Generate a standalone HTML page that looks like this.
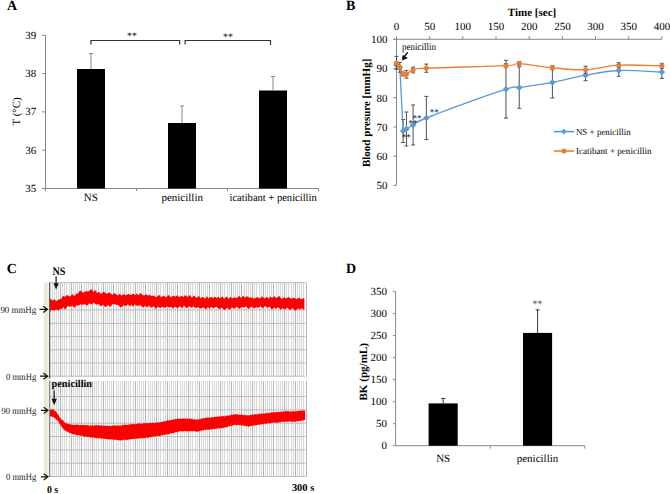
<!DOCTYPE html>
<html><head><meta charset="utf-8"><style>
html,body{margin:0;padding:0;background:#fff;}
svg{display:block;font-family:"Liberation Serif", serif;text-rendering:geometricPrecision;}
</style></head><body>
<svg width="670" height="494" viewBox="0 0 670 494">
<rect width="670" height="494" fill="#fff"/>
<text x="7" y="10" font-size="14" text-anchor="start" font-weight="bold" fill="#000" >A</text>
<path d="M45.5,35.3 V191.3 M45.5,188.5 H318.5" stroke="#868686" stroke-width="1" fill="none"/>
<path d="M42,188.5 H45.5" stroke="#868686" stroke-width="1"/>
<text x="36.3" y="191.8" font-size="11" text-anchor="end" font-weight="normal" fill="#000" >35</text>
<path d="M42,150.2 H45.5" stroke="#868686" stroke-width="1"/>
<text x="36.3" y="153.5" font-size="11" text-anchor="end" font-weight="normal" fill="#000" >36</text>
<path d="M42,111.9 H45.5" stroke="#868686" stroke-width="1"/>
<text x="36.3" y="115.2" font-size="11" text-anchor="end" font-weight="normal" fill="#000" >37</text>
<path d="M42,73.6 H45.5" stroke="#868686" stroke-width="1"/>
<text x="36.3" y="76.9" font-size="11" text-anchor="end" font-weight="normal" fill="#000" >38</text>
<path d="M42,35.3 H45.5" stroke="#868686" stroke-width="1"/>
<text x="36.3" y="38.60000000000001" font-size="11" text-anchor="end" font-weight="normal" fill="#000" >39</text>
<path d="M136.5,188.5 V191" stroke="#868686" stroke-width="1"/>
<path d="M227.5,188.5 V191" stroke="#868686" stroke-width="1"/>
<path d="M318.5,188.5 V191" stroke="#868686" stroke-width="1"/>
<rect x="77" y="69" width="28" height="119.5" fill="#000"/>
<path d="M91,69 V53.5 M89,53.5 H93" stroke="#8a8a8a" stroke-width="1" fill="none"/>
<rect x="168" y="123" width="28" height="65.5" fill="#000"/>
<path d="M182,123 V106 M180,106 H184" stroke="#8a8a8a" stroke-width="1" fill="none"/>
<rect x="259" y="90.5" width="28" height="98.0" fill="#000"/>
<path d="M273,90.5 V76.5 M271,76.5 H275" stroke="#8a8a8a" stroke-width="1" fill="none"/>
<path d="M91,44.6 V40.5 H179.6 V44.6 M185.1,44.6 V40.5 H270.5 V45" stroke="#333" stroke-width="1.2" fill="none"/>
<text x="132" y="39.2" font-size="10" text-anchor="middle" font-weight="normal" fill="#000" >**</text>
<text x="228" y="40" font-size="10" text-anchor="middle" font-weight="normal" fill="#000" >**</text>
<text x="90.8" y="200.8" font-size="11" text-anchor="middle" font-weight="normal" fill="#000" >NS</text>
<text x="182.2" y="200.8" font-size="11" text-anchor="middle" font-weight="normal" fill="#000" >penicillin</text>
<text x="229.5" y="200.8" font-size="11" text-anchor="start" font-weight="normal" fill="#000" textLength="87.2" lengthAdjust="spacingAndGlyphs">icatibant + penicillin</text>
<text transform="translate(20.3,111.4) rotate(-90)" font-size="11" text-anchor="middle">T (°C)</text>
<text x="346" y="10" font-size="14" text-anchor="start" font-weight="bold" fill="#000" >B</text>
<text x="532" y="16" font-size="11" text-anchor="middle" font-weight="bold" fill="#000" >Time [sec]</text>
<path d="M393.4,39.3 H661.9 M396.5,39.3 V185.4" stroke="#868686" stroke-width="1" fill="none"/>
<path d="M396.5,39.3 V36.3" stroke="#868686" stroke-width="1"/>
<text x="396.5" y="29.9" font-size="11" text-anchor="middle" font-weight="normal" fill="#000" >0</text>
<path d="M429.7,39.3 V36.3" stroke="#868686" stroke-width="1"/>
<text x="429.7" y="29.9" font-size="11" text-anchor="middle" font-weight="normal" fill="#000" >50</text>
<path d="M462.8,39.3 V36.3" stroke="#868686" stroke-width="1"/>
<text x="462.8" y="29.9" font-size="11" text-anchor="middle" font-weight="normal" fill="#000" >100</text>
<path d="M496.0,39.3 V36.3" stroke="#868686" stroke-width="1"/>
<text x="496.0" y="29.9" font-size="11" text-anchor="middle" font-weight="normal" fill="#000" >150</text>
<path d="M529.2,39.3 V36.3" stroke="#868686" stroke-width="1"/>
<text x="529.2" y="29.9" font-size="11" text-anchor="middle" font-weight="normal" fill="#000" >200</text>
<path d="M562.4,39.3 V36.3" stroke="#868686" stroke-width="1"/>
<text x="562.4" y="29.9" font-size="11" text-anchor="middle" font-weight="normal" fill="#000" >250</text>
<path d="M595.5,39.3 V36.3" stroke="#868686" stroke-width="1"/>
<text x="595.5" y="29.9" font-size="11" text-anchor="middle" font-weight="normal" fill="#000" >300</text>
<path d="M628.7,39.3 V36.3" stroke="#868686" stroke-width="1"/>
<text x="628.7" y="29.9" font-size="11" text-anchor="middle" font-weight="normal" fill="#000" >350</text>
<path d="M661.9,39.3 V36.3" stroke="#868686" stroke-width="1"/>
<text x="661.9" y="29.9" font-size="11" text-anchor="middle" font-weight="normal" fill="#000" >400</text>
<path d="M393.4,185.4 H396.5" stroke="#868686" stroke-width="1"/>
<text x="387.4" y="189.2" font-size="11" text-anchor="end" font-weight="normal" fill="#000" >50</text>
<path d="M393.4,156.2 H396.5" stroke="#868686" stroke-width="1"/>
<text x="387.4" y="160.0" font-size="11" text-anchor="end" font-weight="normal" fill="#000" >60</text>
<path d="M393.4,127.0 H396.5" stroke="#868686" stroke-width="1"/>
<text x="387.4" y="130.8" font-size="11" text-anchor="end" font-weight="normal" fill="#000" >70</text>
<path d="M393.4,97.7 H396.5" stroke="#868686" stroke-width="1"/>
<text x="387.4" y="101.5" font-size="11" text-anchor="end" font-weight="normal" fill="#000" >80</text>
<path d="M393.4,68.5 H396.5" stroke="#868686" stroke-width="1"/>
<text x="387.4" y="72.3" font-size="11" text-anchor="end" font-weight="normal" fill="#000" >90</text>
<path d="M393.4,39.3 H396.5" stroke="#868686" stroke-width="1"/>
<text x="387.4" y="43.1" font-size="11" text-anchor="end" font-weight="normal" fill="#000" >100</text>
<text transform="translate(369.8,112.85) rotate(-90)" font-size="11" font-weight="bold" text-anchor="middle">Blood presure [mmHg]</text>
<path d="M403.13,119.50 V142.50 M401.13,119.50 H405.13 M401.13,142.50 H405.13 M406.45,112.00 V146.00 M404.45,112.00 H408.45 M404.45,146.00 H408.45 M413.08,105.00 V145.00 M411.08,105.00 H415.08 M411.08,145.00 H415.08 M426.35,96.40 V139.60 M424.35,96.40 H428.35 M424.35,139.60 H428.35 M505.96,60.30 V118.10 M503.96,60.30 H507.96 M503.96,118.10 H507.96 M519.23,66.90 V108.30 M517.23,66.90 H521.23 M517.23,108.30 H521.23 M552.40,66.80 V98.00 M550.40,66.80 H554.40 M550.40,98.00 H554.40 M585.57,69.70 V80.70 M583.57,69.70 H587.57 M583.57,80.70 H587.57 M618.74,64.70 V76.30 M616.74,64.70 H620.74 M616.74,76.30 H620.74 M661.86,65.60 V78.40 M659.86,65.60 H663.86 M659.86,78.40 H663.86 " stroke="#505050" stroke-width="1" fill="none"/>
<path d="M396.50,65.00 L399.82,67.50 L403.13,131.00 L406.45,129.00 L413.08,125.00 C416.40,123.17 410.87,123.97 426.35,118.00 C441.83,112.03 490.48,94.27 505.96,89.20 C521.44,84.13 511.49,88.73 519.23,87.60 C526.97,86.47 541.34,84.47 552.40,82.40 C563.46,80.33 574.51,77.18 585.57,75.20 C596.63,73.22 606.02,71.03 618.74,70.50 C631.45,69.97 654.67,71.75 661.86,72.00" stroke="#5b9bd5" stroke-width="1.35" fill="none" stroke-linejoin="round"/>
<path d="M396.50,61.70 L399.80,65.00 L396.50,68.30 L393.20,65.00Z" fill="#5b9bd5"/>
<path d="M399.82,64.20 L403.12,67.50 L399.82,70.80 L396.52,67.50Z" fill="#5b9bd5"/>
<path d="M403.13,127.70 L406.43,131.00 L403.13,134.30 L399.83,131.00Z" fill="#5b9bd5"/>
<path d="M406.45,125.70 L409.75,129.00 L406.45,132.30 L403.15,129.00Z" fill="#5b9bd5"/>
<path d="M413.08,121.70 L416.38,125.00 L413.08,128.30 L409.78,125.00Z" fill="#5b9bd5"/>
<path d="M426.35,114.70 L429.65,118.00 L426.35,121.30 L423.05,118.00Z" fill="#5b9bd5"/>
<path d="M505.96,85.90 L509.26,89.20 L505.96,92.50 L502.66,89.20Z" fill="#5b9bd5"/>
<path d="M519.23,84.30 L522.53,87.60 L519.23,90.90 L515.93,87.60Z" fill="#5b9bd5"/>
<path d="M552.40,79.10 L555.70,82.40 L552.40,85.70 L549.10,82.40Z" fill="#5b9bd5"/>
<path d="M585.57,71.90 L588.87,75.20 L585.57,78.50 L582.27,75.20Z" fill="#5b9bd5"/>
<path d="M618.74,67.20 L622.04,70.50 L618.74,73.80 L615.44,70.50Z" fill="#5b9bd5"/>
<path d="M661.86,68.70 L665.16,72.00 L661.86,75.30 L658.56,72.00Z" fill="#5b9bd5"/>
<path d="M396.50,56.40 V69.40 M394.50,56.40 H398.50 M394.50,69.40 H398.50 M399.82,62.40 V72.20 M397.82,62.40 H401.82 M397.82,72.20 H401.82 M403.13,72.00 V76.00 M401.13,72.00 H405.13 M401.13,76.00 H405.13 M406.45,70.45 V78.15 M404.45,70.45 H408.45 M404.45,78.15 H408.45 M413.08,67.10 V72.90 M411.08,67.10 H415.08 M411.08,72.90 H415.08 M426.35,64.10 V72.30 M424.35,64.10 H428.35 M424.35,72.30 H428.35 M505.96,63.70 V67.70 M503.96,63.70 H507.96 M503.96,67.70 H507.96 M519.23,61.60 V65.60 M517.23,61.60 H521.23 M517.23,65.60 H521.23 M552.40,65.80 V69.80 M550.40,65.80 H554.40 M550.40,69.80 H554.40 M585.57,66.20 V73.20 M583.57,66.20 H587.57 M583.57,73.20 H587.57 M618.74,62.70 V67.70 M616.74,62.70 H620.74 M616.74,67.70 H620.74 M661.86,63.30 V68.30 M659.86,63.30 H663.86 M659.86,68.30 H663.86 " stroke="#505050" stroke-width="1" fill="none"/>
<path d="M396.50,62.90 L399.82,67.30 C400.92,69.15 402.03,72.83 403.13,74.00 C404.24,75.17 404.79,74.97 406.45,74.30 C408.11,73.63 409.77,71.02 413.08,70.00 C416.40,68.98 410.87,68.92 426.35,68.20 C441.83,67.48 490.48,66.47 505.96,65.70 C521.44,64.93 511.49,63.25 519.23,63.60 C526.97,63.95 541.34,66.78 552.40,67.80 C563.46,68.82 574.51,70.13 585.57,69.70 C596.63,69.27 606.02,65.85 618.74,65.20 C631.45,64.55 654.67,65.70 661.86,65.80" stroke="#ed7d31" stroke-width="1.35" fill="none" stroke-linejoin="round"/>
<circle cx="396.50" cy="62.90" r="2.5" fill="#ed7d31"/>
<circle cx="399.82" cy="67.30" r="2.5" fill="#ed7d31"/>
<circle cx="403.13" cy="74.00" r="2.5" fill="#ed7d31"/>
<circle cx="406.45" cy="74.30" r="2.5" fill="#ed7d31"/>
<circle cx="413.08" cy="70.00" r="2.5" fill="#ed7d31"/>
<circle cx="426.35" cy="68.20" r="2.5" fill="#ed7d31"/>
<circle cx="505.96" cy="65.70" r="2.5" fill="#ed7d31"/>
<circle cx="519.23" cy="63.60" r="2.5" fill="#ed7d31"/>
<circle cx="552.40" cy="67.80" r="2.5" fill="#ed7d31"/>
<circle cx="585.57" cy="69.70" r="2.5" fill="#ed7d31"/>
<circle cx="618.74" cy="65.20" r="2.5" fill="#ed7d31"/>
<circle cx="661.86" cy="65.80" r="2.5" fill="#ed7d31"/>
<text x="406.2" y="140.0" font-size="9" text-anchor="middle" font-weight="normal" fill="#000" >**</text>
<text x="412.8" y="126.4" font-size="9" text-anchor="middle" font-weight="normal" fill="#000" >**</text>
<text x="416.9" y="120.6" font-size="9" text-anchor="middle" font-weight="normal" fill="#000" >**</text>
<text x="434.3" y="115.3" font-size="9" text-anchor="middle" font-weight="normal" fill="#000" >**</text>
<text x="402" y="49.9" font-size="10" text-anchor="start" font-weight="normal" fill="#000" textLength="34" lengthAdjust="spacingAndGlyphs">penicillin</text>
<path d="M407.8,52.3 L404.3,56.5" stroke="#000" stroke-width="1.3"/>
<path d="M402,60.6 L402.6,55 L408,58 Z" fill="#000"/>
<path d="M554,131.6 H574" stroke="#5b9bd5" stroke-width="1.6"/>
<path d="M563.9,128.8 L566.7,131.6 L563.9,134.4 L561.1,131.6Z" fill="#5b9bd5"/>
<path d="M554,151 H574" stroke="#ed7d31" stroke-width="1.6"/>
<circle cx="563.9" cy="151" r="2.5" fill="#ed7d31"/>
<text x="575.9" y="134.6" font-size="9.3" text-anchor="start" font-weight="normal" fill="#000" textLength="54.9" lengthAdjust="spacingAndGlyphs">NS + penicillin</text>
<text x="575.9" y="154.0" font-size="9.3" text-anchor="start" font-weight="normal" fill="#000" textLength="75.7" lengthAdjust="spacingAndGlyphs">Icatibant + penicillin</text>
<text x="346" y="273.1" font-size="14" text-anchor="start" font-weight="bold" fill="#000" >D</text>
<path d="M395.6,291.6 V445.7 H584.8" stroke="#868686" stroke-width="1" fill="none"/>
<path d="M392.9,445.7 H395.6" stroke="#868686" stroke-width="1"/>
<text x="387" y="449.3" font-size="11" text-anchor="end" font-weight="normal" fill="#000" >0</text>
<path d="M392.9,423.7 H395.6" stroke="#868686" stroke-width="1"/>
<text x="387" y="427.3" font-size="11" text-anchor="end" font-weight="normal" fill="#000" >50</text>
<path d="M392.9,401.7 H395.6" stroke="#868686" stroke-width="1"/>
<text x="387" y="405.3" font-size="11" text-anchor="end" font-weight="normal" fill="#000" >100</text>
<path d="M392.9,379.7 H395.6" stroke="#868686" stroke-width="1"/>
<text x="387" y="383.3" font-size="11" text-anchor="end" font-weight="normal" fill="#000" >150</text>
<path d="M392.9,357.7 H395.6" stroke="#868686" stroke-width="1"/>
<text x="387" y="361.3" font-size="11" text-anchor="end" font-weight="normal" fill="#000" >200</text>
<path d="M392.9,335.6 H395.6" stroke="#868686" stroke-width="1"/>
<text x="387" y="339.2" font-size="11" text-anchor="end" font-weight="normal" fill="#000" >250</text>
<path d="M392.9,313.6 H395.6" stroke="#868686" stroke-width="1"/>
<text x="387" y="317.2" font-size="11" text-anchor="end" font-weight="normal" fill="#000" >300</text>
<path d="M392.9,291.6 H395.6" stroke="#868686" stroke-width="1"/>
<text x="387" y="295.2" font-size="11" text-anchor="end" font-weight="normal" fill="#000" >350</text>
<path d="M490.2,445.7 V448.6" stroke="#868686" stroke-width="1"/>
<path d="M584.8,445.7 V448.6" stroke="#868686" stroke-width="1"/>
<rect x="428.6" y="403.4" width="29.1" height="42.3" fill="#000"/>
<rect x="523" y="332.9" width="29.1" height="112.8" fill="#000"/>
<path d="M443.2,403.4 V398.4 M441.2,398.4 H445.2 M537.6,332.9 V309.9 M535.6,309.9 H539.6" stroke="#333" stroke-width="1" fill="none"/>
<text x="537.6" y="307.4" font-size="10" text-anchor="middle" font-weight="normal" fill="#444" >**</text>
<text x="443.2" y="461.6" font-size="11" text-anchor="middle" font-weight="normal" fill="#000" >NS</text>
<text x="537.5" y="461.6" font-size="11" text-anchor="middle" font-weight="normal" fill="#000" >penicillin</text>
<text transform="translate(367.0,371.8) rotate(-90)" font-size="11.1" font-weight="bold" text-anchor="middle">BK (pg/mL)</text>
<rect x="44.0" y="282.7" width="3.8" height="194" fill="#ebe7d6"/>
<rect x="47.8" y="282.7" width="1.4" height="194" fill="#eff1ea"/>
<rect x="49.4" y="282.6" width="256.1" height="94.0" fill="#fbfbfb"/>
<path d="M52.50,282.6 V376.6 M54.50,282.6 V376.6 M56.50,282.6 V376.6 M58.50,282.6 V376.6 M62.50,282.6 V376.6 M64.50,282.6 V376.6 M66.50,282.6 V376.6 M69.50,282.6 V376.6 M73.50,282.6 V376.6 M75.50,282.6 V376.6 M77.50,282.6 V376.6 M79.50,282.6 V376.6 M84.50,282.6 V376.6 M86.50,282.6 V376.6 M88.50,282.6 V376.6 M90.50,282.6 V376.6 M94.50,282.6 V376.6 M96.50,282.6 V376.6 M98.50,282.6 V376.6 M101.50,282.6 V376.6 M105.50,282.6 V376.6 M107.50,282.6 V376.6 M109.50,282.6 V376.6 M111.50,282.6 V376.6 M116.50,282.6 V376.6 M118.50,282.6 V376.6 M120.50,282.6 V376.6 M122.50,282.6 V376.6 M126.50,282.6 V376.6 M128.50,282.6 V376.6 M130.50,282.6 V376.6 M133.50,282.6 V376.6 M137.50,282.6 V376.6 M139.50,282.6 V376.6 M141.50,282.6 V376.6 M143.50,282.6 V376.6 M148.50,282.6 V376.6 M150.50,282.6 V376.6 M152.50,282.6 V376.6 M154.50,282.6 V376.6 M158.50,282.6 V376.6 M160.50,282.6 V376.6 M163.50,282.6 V376.6 M165.50,282.6 V376.6 M169.50,282.6 V376.6 M171.50,282.6 V376.6 M173.50,282.6 V376.6 M175.50,282.6 V376.6 M180.50,282.6 V376.6 M182.50,282.6 V376.6 M184.50,282.6 V376.6 M186.50,282.6 V376.6 M190.50,282.6 V376.6 M192.50,282.6 V376.6 M195.50,282.6 V376.6 M197.50,282.6 V376.6 M201.50,282.6 V376.6 M203.50,282.6 V376.6 M205.50,282.6 V376.6 M207.50,282.6 V376.6 M212.50,282.6 V376.6 M214.50,282.6 V376.6 M216.50,282.6 V376.6 M218.50,282.6 V376.6 M222.50,282.6 V376.6 M224.50,282.6 V376.6 M227.50,282.6 V376.6 M229.50,282.6 V376.6 M233.50,282.6 V376.6 M235.50,282.6 V376.6 M237.50,282.6 V376.6 M239.50,282.6 V376.6 M244.50,282.6 V376.6 M246.50,282.6 V376.6 M248.50,282.6 V376.6 M250.50,282.6 V376.6 M254.50,282.6 V376.6 M256.50,282.6 V376.6 M259.50,282.6 V376.6 M261.50,282.6 V376.6 M265.50,282.6 V376.6 M267.50,282.6 V376.6 M269.50,282.6 V376.6 M271.50,282.6 V376.6 M276.50,282.6 V376.6 M278.50,282.6 V376.6 M280.50,282.6 V376.6 M282.50,282.6 V376.6 M286.50,282.6 V376.6 M288.50,282.6 V376.6 M291.50,282.6 V376.6 M293.50,282.6 V376.6 M297.50,282.6 V376.6 M299.50,282.6 V376.6 M301.50,282.6 V376.6 M303.50,282.6 V376.6 " stroke="#d8d8d8" stroke-width="1"/>
<path d="M60.50,282.6 V376.6 M71.50,282.6 V376.6 M81.50,282.6 V376.6 M92.50,282.6 V376.6 M103.50,282.6 V376.6 M113.50,282.6 V376.6 M124.50,282.6 V376.6 M135.50,282.6 V376.6 M145.50,282.6 V376.6 M156.50,282.6 V376.6 M167.50,282.6 V376.6 M177.50,282.6 V376.6 M188.50,282.6 V376.6 M199.50,282.6 V376.6 M209.50,282.6 V376.6 M220.50,282.6 V376.6 M231.50,282.6 V376.6 M241.50,282.6 V376.6 M252.50,282.6 V376.6 M263.50,282.6 V376.6 M273.50,282.6 V376.6 M284.50,282.6 V376.6 M295.50,282.6 V376.6 M306.50,282.6 V376.6 " stroke="#b6b6b6" stroke-width="1"/>
<path d="M49.4,282.60 H305.5 M49.4,309.90 H305.5 M49.4,323.40 H305.5 M49.4,336.60 H305.5 M49.4,349.80 H305.5 M49.4,363.00 H305.5 M49.4,376.20 H305.5 " stroke="#bdbdbd" stroke-width="1"/>
<rect x="49.4" y="381.0" width="256.1" height="95.89999999999998" fill="#fbfbfb"/>
<path d="M52.50,381.0 V476.9 M54.50,381.0 V476.9 M56.50,381.0 V476.9 M58.50,381.0 V476.9 M62.50,381.0 V476.9 M64.50,381.0 V476.9 M66.50,381.0 V476.9 M69.50,381.0 V476.9 M73.50,381.0 V476.9 M75.50,381.0 V476.9 M77.50,381.0 V476.9 M79.50,381.0 V476.9 M84.50,381.0 V476.9 M86.50,381.0 V476.9 M88.50,381.0 V476.9 M90.50,381.0 V476.9 M94.50,381.0 V476.9 M96.50,381.0 V476.9 M98.50,381.0 V476.9 M101.50,381.0 V476.9 M105.50,381.0 V476.9 M107.50,381.0 V476.9 M109.50,381.0 V476.9 M111.50,381.0 V476.9 M116.50,381.0 V476.9 M118.50,381.0 V476.9 M120.50,381.0 V476.9 M122.50,381.0 V476.9 M126.50,381.0 V476.9 M128.50,381.0 V476.9 M130.50,381.0 V476.9 M133.50,381.0 V476.9 M137.50,381.0 V476.9 M139.50,381.0 V476.9 M141.50,381.0 V476.9 M143.50,381.0 V476.9 M148.50,381.0 V476.9 M150.50,381.0 V476.9 M152.50,381.0 V476.9 M154.50,381.0 V476.9 M158.50,381.0 V476.9 M160.50,381.0 V476.9 M163.50,381.0 V476.9 M165.50,381.0 V476.9 M169.50,381.0 V476.9 M171.50,381.0 V476.9 M173.50,381.0 V476.9 M175.50,381.0 V476.9 M180.50,381.0 V476.9 M182.50,381.0 V476.9 M184.50,381.0 V476.9 M186.50,381.0 V476.9 M190.50,381.0 V476.9 M192.50,381.0 V476.9 M195.50,381.0 V476.9 M197.50,381.0 V476.9 M201.50,381.0 V476.9 M203.50,381.0 V476.9 M205.50,381.0 V476.9 M207.50,381.0 V476.9 M212.50,381.0 V476.9 M214.50,381.0 V476.9 M216.50,381.0 V476.9 M218.50,381.0 V476.9 M222.50,381.0 V476.9 M224.50,381.0 V476.9 M227.50,381.0 V476.9 M229.50,381.0 V476.9 M233.50,381.0 V476.9 M235.50,381.0 V476.9 M237.50,381.0 V476.9 M239.50,381.0 V476.9 M244.50,381.0 V476.9 M246.50,381.0 V476.9 M248.50,381.0 V476.9 M250.50,381.0 V476.9 M254.50,381.0 V476.9 M256.50,381.0 V476.9 M259.50,381.0 V476.9 M261.50,381.0 V476.9 M265.50,381.0 V476.9 M267.50,381.0 V476.9 M269.50,381.0 V476.9 M271.50,381.0 V476.9 M276.50,381.0 V476.9 M278.50,381.0 V476.9 M280.50,381.0 V476.9 M282.50,381.0 V476.9 M286.50,381.0 V476.9 M288.50,381.0 V476.9 M291.50,381.0 V476.9 M293.50,381.0 V476.9 M297.50,381.0 V476.9 M299.50,381.0 V476.9 M301.50,381.0 V476.9 M303.50,381.0 V476.9 " stroke="#d8d8d8" stroke-width="1"/>
<path d="M60.50,381.0 V476.9 M71.50,381.0 V476.9 M81.50,381.0 V476.9 M92.50,381.0 V476.9 M103.50,381.0 V476.9 M113.50,381.0 V476.9 M124.50,381.0 V476.9 M135.50,381.0 V476.9 M145.50,381.0 V476.9 M156.50,381.0 V476.9 M167.50,381.0 V476.9 M177.50,381.0 V476.9 M188.50,381.0 V476.9 M199.50,381.0 V476.9 M209.50,381.0 V476.9 M220.50,381.0 V476.9 M231.50,381.0 V476.9 M241.50,381.0 V476.9 M252.50,381.0 V476.9 M263.50,381.0 V476.9 M273.50,381.0 V476.9 M284.50,381.0 V476.9 M295.50,381.0 V476.9 M306.50,381.0 V476.9 " stroke="#b6b6b6" stroke-width="1"/>
<path d="M49.4,396.52 H305.5 M49.4,409.85 H305.5 M49.4,423.18 H305.5 M49.4,436.51 H305.5 M49.4,449.84 H305.5 M49.4,463.17 H305.5 M49.4,476.50 H305.5 " stroke="#bdbdbd" stroke-width="1"/>
<path d="M49.7,282.6 V378.6" stroke="#4e514c" stroke-width="1.2"/>
<path d="M49.7,380.8 V477" stroke="#7a7a7a" stroke-width="1.2"/>
<polygon points="50.0,298.4 50.4,298.7 50.8,299.1 51.2,299.5 51.6,299.8 52.0,300.2 52.4,300.5 52.8,300.3 53.2,300.0 53.6,299.8 54.0,299.6 54.4,299.4 54.8,299.2 55.2,299.9 55.6,300.4 56.0,301.0 56.4,301.2 56.8,300.9 57.2,300.6 57.6,300.2 58.0,299.9 58.4,299.6 58.8,299.2 59.2,299.0 59.6,299.2 60.0,299.4 60.4,299.3 60.8,299.3 61.2,298.8 61.6,298.2 62.0,297.5 62.4,296.9 62.8,296.3 63.2,296.0 63.6,296.1 64.0,296.3 64.4,296.4 64.8,296.6 65.2,296.8 65.6,296.5 66.0,296.0 66.4,295.4 66.8,294.9 67.2,295.0 67.6,295.2 68.0,295.5 68.4,295.7 68.8,295.9 69.2,296.2 69.6,296.4 70.0,296.4 70.4,296.0 70.8,295.7 71.2,295.3 71.6,295.0 72.0,294.6 72.4,294.3 72.8,294.6 73.2,295.0 73.6,295.5 74.0,295.9 74.4,295.7 74.8,295.4 75.2,295.0 75.6,294.5 76.0,294.0 76.4,293.6 76.8,293.7 77.2,293.7 77.6,293.8 78.0,293.5 78.4,292.8 78.8,292.2 79.2,291.6 79.6,291.0 80.0,290.4 80.4,290.7 80.8,291.0 81.2,291.3 81.6,291.6 82.0,291.9 82.4,292.3 82.8,292.6 83.2,292.5 83.6,292.4 84.0,292.2 84.4,292.1 84.8,291.9 85.2,291.7 85.6,291.3 86.0,291.1 86.4,291.1 86.8,291.2 87.2,291.3 87.6,291.4 88.0,291.4 88.4,291.5 88.8,291.5 89.2,291.0 89.6,290.5 90.0,290.0 90.4,289.8 90.8,289.6 91.2,289.4 91.6,289.2 92.0,289.6 92.4,290.4 92.8,291.3 93.2,292.1 93.6,291.8 94.0,291.2 94.4,290.7 94.8,290.1 95.2,290.1 95.6,290.7 96.0,291.3 96.4,291.9 96.8,292.5 97.2,293.0 97.6,292.7 98.0,292.5 98.4,292.3 98.8,292.0 99.2,292.1 99.6,292.6 100.0,293.1 100.4,293.5 100.8,293.8 101.2,293.9 101.6,293.5 102.0,293.1 102.4,292.8 102.8,292.4 103.2,292.0 103.6,291.8 104.0,292.0 104.4,292.2 104.8,292.4 105.2,292.7 105.6,293.1 106.0,293.4 106.4,293.8 106.8,293.7 107.2,293.5 107.6,293.3 108.0,293.1 108.4,293.0 108.8,292.8 109.2,292.6 109.6,292.6 110.0,293.0 110.4,293.3 110.8,293.6 111.2,294.0 111.6,294.3 112.0,294.6 112.4,294.9 112.8,294.8 113.2,294.3 113.6,293.7 114.0,293.2 114.4,293.0 114.8,293.3 115.2,293.6 115.6,293.9 116.0,294.3 116.4,294.6 116.8,294.9 117.2,295.2 117.6,295.2 118.0,294.9 118.4,294.7 118.8,294.4 119.2,294.2 119.6,293.9 120.0,294.2 120.4,294.6 120.8,295.0 121.2,295.4 121.6,295.5 122.0,295.3 122.4,295.1 122.8,294.8 123.2,294.6 123.6,294.3 124.0,294.3 124.4,294.6 124.8,294.9 125.2,295.2 125.6,295.1 126.0,295.0 126.4,294.8 126.8,294.7 127.2,294.5 127.6,294.4 128.0,294.2 128.4,294.1 128.8,294.2 129.2,294.3 129.6,294.4 130.0,294.6 130.4,294.8 130.8,295.0 131.2,295.1 131.6,294.8 132.0,294.5 132.4,294.1 132.8,293.7 133.2,293.9 133.6,294.1 134.0,294.3 134.4,294.5 134.8,294.7 135.2,294.8 135.6,295.0 136.0,294.5 136.4,294.1 136.8,293.6 137.2,293.7 137.6,294.2 138.0,294.7 138.4,295.2 138.8,294.9 139.2,294.4 139.6,294.0 140.0,293.5 140.4,293.1 140.8,293.5 141.2,293.8 141.6,294.1 142.0,294.5 142.4,294.8 142.8,295.1 143.2,295.5 143.6,295.6 144.0,295.5 144.4,295.3 144.8,295.1 145.2,295.0 145.6,294.8 146.0,294.6 146.4,294.5 146.8,294.5 147.2,294.9 147.6,295.3 148.0,295.7 148.4,295.6 148.8,295.3 149.2,295.0 149.6,294.7 150.0,295.0 150.4,295.3 150.8,295.6 151.2,295.9 151.6,296.3 152.0,296.1 152.4,296.0 152.8,295.8 153.2,295.6 153.6,295.8 154.0,296.1 154.4,296.3 154.8,296.6 155.2,296.8 155.6,297.0 156.0,297.2 156.4,297.0 156.8,296.7 157.2,296.4 157.6,296.1 158.0,295.8 158.4,295.5 158.8,295.2 159.2,294.9 159.6,295.3 160.0,295.8 160.4,296.3 160.8,296.8 161.2,297.3 161.6,297.1 162.0,296.8 162.4,296.5 162.8,296.1 163.2,295.8 163.6,295.5 164.0,295.9 164.4,296.2 164.8,296.6 165.2,296.9 165.6,297.2 166.0,297.5 166.4,297.1 166.8,296.6 167.2,296.2 167.6,295.8 168.0,295.4 168.4,294.9 168.8,295.3 169.2,295.7 169.6,296.1 170.0,296.6 170.4,297.0 170.8,297.3 171.2,297.0 171.6,296.8 172.0,296.6 172.4,296.3 172.8,296.1 173.2,295.8 173.6,295.9 174.0,296.1 174.4,296.3 174.8,296.4 175.2,296.6 175.6,296.4 176.0,296.2 176.4,295.9 176.8,295.6 177.2,295.4 177.6,295.2 178.0,295.8 178.4,296.4 178.8,296.9 179.2,297.0 179.6,296.8 180.0,296.6 180.4,296.4 180.8,296.2 181.2,296.1 181.6,296.1 182.0,296.3 182.4,296.4 182.8,296.6 183.2,296.7 183.6,296.9 184.0,296.6 184.4,296.1 184.8,295.6 185.2,295.0 185.6,295.4 186.0,295.7 186.4,296.1 186.8,296.5 187.2,296.8 187.6,296.8 188.0,296.4 188.4,296.1 188.8,295.7 189.2,295.3 189.6,295.3 190.0,295.7 190.4,296.1 190.8,296.5 191.2,296.9 191.6,297.3 192.0,297.7 192.4,297.2 192.8,296.5 193.2,295.9 193.6,295.4 194.0,295.7 194.4,296.1 194.8,296.4 195.2,296.7 195.6,297.0 196.0,297.4 196.4,297.7 196.8,297.7 197.2,297.4 197.6,297.0 198.0,296.7 198.4,296.3 198.8,296.0 199.2,296.5 199.6,297.0 200.0,297.4 200.4,297.9 200.8,298.2 201.2,297.9 201.6,297.6 202.0,297.3 202.4,296.9 202.8,296.9 203.2,297.3 203.6,297.6 204.0,297.9 204.4,298.3 204.8,298.6 205.2,298.6 205.6,298.1 206.0,297.6 206.4,297.1 206.8,296.6 207.2,296.5 207.6,297.1 208.0,297.7 208.4,298.3 208.8,298.2 209.2,298.0 209.6,297.7 210.0,297.5 210.4,297.3 210.8,297.0 211.2,296.9 211.6,297.1 212.0,297.4 212.4,297.7 212.8,297.9 213.2,297.8 213.6,297.5 214.0,297.3 214.4,297.0 214.8,296.9 215.2,297.1 215.6,297.4 216.0,297.6 216.4,297.9 216.8,298.1 217.2,297.8 217.6,297.5 218.0,297.1 218.4,296.9 218.8,297.2 219.2,297.5 219.6,297.8 220.0,298.0 220.4,298.1 220.8,297.8 221.2,297.4 221.6,297.0 222.0,296.7 222.4,296.3 222.8,296.9 223.2,297.5 223.6,298.1 224.0,298.8 224.4,298.6 224.8,298.2 225.2,297.8 225.6,297.4 226.0,297.0 226.4,296.6 226.8,296.6 227.2,297.1 227.6,297.5 228.0,298.0 228.4,298.5 228.8,298.9 229.2,298.3 229.6,297.8 230.0,297.3 230.4,296.9 230.8,297.2 231.2,297.6 231.6,298.0 232.0,298.4 232.4,298.2 232.8,298.1 233.2,297.9 233.6,297.8 234.0,297.6 234.4,297.4 234.8,297.3 235.2,297.4 235.6,297.6 236.0,297.8 236.4,298.0 236.8,298.1 237.2,297.7 237.6,297.3 238.0,296.9 238.4,296.6 238.8,296.2 239.2,295.8 239.6,296.2 240.0,296.7 240.4,297.2 240.8,297.7 241.2,298.2 241.6,297.6 242.0,297.0 242.4,296.4 242.8,295.9 243.2,295.6 243.6,296.0 244.0,296.5 244.4,297.0 244.8,297.5 245.2,297.4 245.6,297.2 246.0,296.9 246.4,296.6 246.8,296.3 247.2,296.3 247.6,296.6 248.0,296.9 248.4,297.3 248.8,297.6 249.2,297.8 249.6,297.7 250.0,297.6 250.4,297.5 250.8,297.4 251.2,297.6 251.6,297.7 252.0,297.9 252.4,298.0 252.8,298.2 253.2,298.3 253.6,298.5 254.0,298.5 254.4,298.4 254.8,298.3 255.2,298.1 255.6,297.9 256.0,297.7 256.4,297.5 256.8,297.3 257.2,297.3 257.6,297.5 258.0,297.6 258.4,297.8 258.8,297.9 259.2,298.1 259.6,298.3 260.0,298.4 260.4,297.9 260.8,297.5 261.2,297.0 261.6,296.6 262.0,296.6 262.4,296.9 262.8,297.1 263.2,297.4 263.6,297.7 264.0,297.9 264.4,298.2 264.8,298.2 265.2,297.9 265.6,297.7 266.0,297.5 266.4,297.2 266.8,297.0 267.2,297.3 267.6,297.6 268.0,297.9 268.4,298.3 268.8,298.6 269.2,298.1 269.6,297.5 270.0,296.9 270.4,296.6 270.8,296.9 271.2,297.3 271.6,297.7 272.0,298.0 272.4,297.8 272.8,297.2 273.2,296.6 273.6,296.0 274.0,296.3 274.4,296.6 274.8,296.9 275.2,297.3 275.6,297.6 276.0,298.0 276.4,298.0 276.8,297.7 277.2,297.4 277.6,297.1 278.0,296.9 278.4,296.6 278.8,296.3 279.2,296.1 279.6,296.6 280.0,297.1 280.4,297.5 280.8,298.0 281.2,298.5 281.6,298.9 282.0,298.7 282.4,298.4 282.8,298.2 283.2,298.0 283.6,297.7 284.0,297.5 284.4,297.4 284.8,297.7 285.2,297.9 285.6,298.2 286.0,298.5 286.4,298.4 286.8,298.1 287.2,297.9 287.6,297.6 288.0,297.4 288.4,297.1 288.8,297.3 289.2,297.5 289.6,297.8 290.0,298.0 290.4,298.2 290.8,298.4 291.2,298.6 291.6,298.7 292.0,298.5 292.4,298.2 292.8,298.0 293.2,297.7 293.6,297.7 294.0,297.9 294.4,298.1 294.8,298.3 295.2,298.5 295.6,298.7 296.0,298.9 296.4,299.1 296.8,298.9 297.2,298.7 297.6,298.5 298.0,298.2 298.4,298.0 298.8,297.8 299.2,297.8 299.6,298.2 300.0,298.5 300.4,298.9 300.8,299.3 301.2,299.1 301.6,299.0 302.0,298.8 302.4,298.7 302.8,298.5 303.2,298.4 303.6,298.2 304.0,298.4 304.4,298.5 304.4,309.3 304.0,309.7 303.6,309.5 303.2,309.2 302.8,309.0 302.4,308.7 302.0,308.5 301.6,308.2 301.2,308.4 300.8,308.8 300.4,309.1 300.0,309.5 299.6,309.8 299.2,309.6 298.8,309.2 298.4,308.8 298.0,308.4 297.6,308.6 297.2,309.1 296.8,309.5 296.4,309.9 296.0,310.3 295.6,310.8 295.2,310.8 294.8,310.4 294.4,310.0 294.0,309.6 293.6,309.1 293.2,308.7 292.8,308.2 292.4,308.3 292.0,308.6 291.6,308.8 291.2,309.1 290.8,309.4 290.4,309.7 290.0,310.0 289.6,309.8 289.2,309.4 288.8,309.1 288.4,308.7 288.0,308.3 287.6,307.9 287.2,307.7 286.8,308.0 286.4,308.3 286.0,308.7 285.6,309.0 285.2,309.3 284.8,309.6 284.4,309.6 284.0,309.3 283.6,308.9 283.2,308.5 282.8,308.1 282.4,308.1 282.0,308.7 281.6,309.2 281.2,309.8 280.8,309.8 280.4,309.4 280.0,309.0 279.6,308.6 279.2,308.3 278.8,307.9 278.4,307.5 278.0,307.3 277.6,307.5 277.2,307.8 276.8,308.1 276.4,308.3 276.0,308.6 275.6,308.9 275.2,308.6 274.8,308.2 274.4,307.8 274.0,307.4 273.6,307.8 273.2,308.2 272.8,308.7 272.4,309.1 272.0,309.5 271.6,309.2 271.2,308.7 270.8,308.2 270.4,307.7 270.0,307.2 269.6,306.6 269.2,306.8 268.8,307.1 268.4,307.4 268.0,307.7 267.6,308.0 267.2,308.0 266.8,307.6 266.4,307.1 266.0,306.6 265.6,306.1 265.2,306.0 264.8,306.3 264.4,306.7 264.0,307.1 263.6,307.5 263.2,307.9 262.8,308.3 262.4,307.9 262.0,307.5 261.6,307.1 261.2,306.8 260.8,306.4 260.4,306.6 260.0,306.8 259.6,307.0 259.2,307.2 258.8,307.4 258.4,307.6 258.0,307.8 257.6,307.7 257.2,307.5 256.8,307.2 256.4,307.1 256.0,307.3 255.6,307.6 255.2,307.9 254.8,308.2 254.4,308.4 254.0,308.2 253.6,308.0 253.2,307.7 252.8,307.5 252.4,307.2 252.0,307.0 251.6,306.7 251.2,306.8 250.8,307.1 250.4,307.4 250.0,307.8 249.6,308.1 249.2,308.4 248.8,308.7 248.4,309.0 248.0,308.6 247.6,308.1 247.2,307.7 246.8,307.3 246.4,306.9 246.0,306.5 245.6,306.5 245.2,306.8 244.8,307.1 244.4,307.5 244.0,307.8 243.6,307.6 243.2,307.4 242.8,307.2 242.4,307.0 242.0,307.0 241.6,307.3 241.2,307.5 240.8,307.8 240.4,308.1 240.0,308.3 239.6,308.6 239.2,308.8 238.8,308.6 238.4,308.2 238.0,307.9 237.6,307.6 237.2,307.3 236.8,306.9 236.4,306.8 236.0,307.3 235.6,307.7 235.2,308.2 234.8,308.7 234.4,308.6 234.0,308.4 233.6,308.3 233.2,308.1 232.8,307.9 232.4,307.8 232.0,307.6 231.6,307.6 231.2,308.0 230.8,308.5 230.4,309.0 230.0,309.4 229.6,309.9 229.2,309.6 228.8,309.3 228.4,308.9 228.0,308.6 227.6,308.3 227.2,308.0 226.8,307.9 226.4,308.4 226.0,308.8 225.6,309.2 225.2,309.7 224.8,310.1 224.4,310.1 224.0,309.7 223.6,309.3 223.2,308.9 222.8,308.6 222.4,308.2 222.0,307.8 221.6,307.6 221.2,307.9 220.8,308.1 220.4,308.4 220.0,308.6 219.6,308.9 219.2,309.0 218.8,308.7 218.4,308.4 218.0,308.0 217.6,307.7 217.2,307.4 216.8,307.1 216.4,306.8 216.0,306.7 215.6,307.0 215.2,307.2 214.8,307.4 214.4,307.7 214.0,308.0 213.6,308.3 213.2,308.2 212.8,307.9 212.4,307.6 212.0,307.3 211.6,306.9 211.2,307.1 210.8,307.5 210.4,307.9 210.0,308.3 209.6,308.8 209.2,308.7 208.8,308.2 208.4,307.6 208.0,307.1 207.6,307.6 207.2,308.1 206.8,308.6 206.4,309.1 206.0,309.3 205.6,309.1 205.2,308.8 204.8,308.5 204.4,308.2 204.0,307.9 203.6,307.6 203.2,307.4 202.8,307.6 202.4,307.8 202.0,308.0 201.6,308.2 201.2,308.4 200.8,308.6 200.4,308.6 200.0,308.3 199.6,308.1 199.2,307.9 198.8,307.7 198.4,307.5 198.0,307.3 197.6,307.1 197.2,307.4 196.8,307.7 196.4,308.0 196.0,308.2 195.6,308.1 195.2,307.8 194.8,307.5 194.4,307.2 194.0,306.9 193.6,306.5 193.2,306.6 192.8,306.9 192.4,307.1 192.0,307.4 191.6,307.7 191.2,307.5 190.8,307.2 190.4,307.0 190.0,306.8 189.6,306.5 189.2,306.3 188.8,306.3 188.4,306.7 188.0,307.1 187.6,307.5 187.2,307.9 186.8,308.3 186.4,308.1 186.0,307.7 185.6,307.2 185.2,306.8 184.8,306.3 184.4,305.9 184.0,305.6 183.6,306.2 183.2,306.9 182.8,307.6 182.4,308.3 182.0,308.1 181.6,307.7 181.2,307.4 180.8,307.0 180.4,306.6 180.0,306.3 179.6,306.4 179.2,306.8 178.8,307.2 178.4,307.6 178.0,308.0 177.6,308.4 177.2,308.1 176.8,307.9 176.4,307.6 176.0,307.4 175.6,307.1 175.2,306.8 174.8,306.7 174.4,307.2 174.0,307.7 173.6,308.2 173.2,308.7 172.8,308.3 172.4,308.0 172.0,307.6 171.6,307.2 171.2,306.9 170.8,306.9 170.4,307.1 170.0,307.2 169.6,307.3 169.2,307.5 168.8,307.5 168.4,307.3 168.0,307.1 167.6,306.8 167.2,306.6 166.8,306.4 166.4,306.7 166.0,307.0 165.6,307.3 165.2,307.7 164.8,308.0 164.4,307.9 164.0,307.6 163.6,307.4 163.2,307.1 162.8,306.9 162.4,306.9 162.0,307.1 161.6,307.3 161.2,307.6 160.8,307.8 160.4,308.0 160.0,307.9 159.6,307.6 159.2,307.2 158.8,306.9 158.4,306.7 158.0,307.0 157.6,307.3 157.2,307.6 156.8,308.0 156.4,308.3 156.0,308.6 155.6,308.8 155.2,308.3 154.8,307.8 154.4,307.2 154.0,306.6 153.6,306.3 153.2,306.6 152.8,306.8 152.4,307.0 152.0,307.2 151.6,307.4 151.2,307.6 150.8,307.9 150.4,307.4 150.0,306.7 149.6,306.2 149.2,305.6 148.8,305.9 148.4,306.3 148.0,306.6 147.6,307.0 147.2,307.3 146.8,307.4 146.4,306.8 146.0,306.2 145.6,305.6 145.2,305.7 144.8,306.1 144.4,306.5 144.0,306.8 143.6,307.2 143.2,307.6 142.8,307.4 142.4,307.1 142.0,306.7 141.6,306.3 141.2,306.0 140.8,305.6 140.4,305.3 140.0,305.2 139.6,305.3 139.2,305.4 138.8,305.6 138.4,305.7 138.0,305.8 137.6,305.9 137.2,305.9 136.8,305.7 136.4,305.5 136.0,305.2 135.6,305.0 135.2,304.7 134.8,304.5 134.4,304.5 134.0,305.2 133.6,305.8 133.2,306.5 132.8,307.0 132.4,306.2 132.0,305.5 131.6,304.8 131.2,304.4 130.8,305.1 130.4,305.8 130.0,306.5 129.6,306.3 129.2,305.7 128.8,305.1 128.4,304.5 128.0,304.5 127.6,304.8 127.2,305.1 126.8,305.3 126.4,305.6 126.0,305.9 125.6,306.0 125.2,305.8 124.8,305.7 124.4,305.6 124.0,305.5 123.6,305.3 123.2,305.6 122.8,305.9 122.4,306.3 122.0,306.7 121.6,307.1 121.2,307.4 120.8,307.6 120.4,307.3 120.0,307.1 119.6,306.6 119.2,306.1 118.8,305.7 118.4,305.2 118.0,304.8 117.6,304.7 117.2,304.7 116.8,304.7 116.4,304.7 116.0,304.7 115.6,304.6 115.2,304.6 114.8,304.4 114.4,304.2 114.0,304.0 113.6,303.9 113.2,303.7 112.8,303.9 112.4,304.3 112.0,304.8 111.6,305.3 111.2,305.7 110.8,306.2 110.4,306.7 110.0,306.7 109.6,306.4 109.2,306.0 108.8,305.7 108.4,305.3 108.0,305.3 107.6,305.6 107.2,305.8 106.8,306.1 106.4,306.4 106.0,306.6 105.6,306.9 105.2,307.1 104.8,306.7 104.4,306.2 104.0,305.8 103.6,305.3 103.2,304.8 102.8,305.0 102.4,305.3 102.0,305.5 101.6,305.8 101.2,306.0 100.8,306.3 100.4,306.3 100.0,305.8 99.6,305.2 99.2,304.6 98.8,304.0 98.4,304.1 98.0,304.2 97.6,304.3 97.2,304.4 96.8,304.5 96.4,304.6 96.0,304.5 95.6,304.1 95.2,303.7 94.8,303.4 94.4,303.2 94.0,302.9 93.6,302.7 93.2,303.0 92.8,303.4 92.4,303.7 92.0,304.1 91.6,304.5 91.2,304.4 90.8,304.2 90.4,304.0 90.0,303.8 89.6,303.6 89.2,303.4 88.8,303.7 88.4,304.2 88.0,304.7 87.6,305.1 87.2,305.6 86.8,305.7 86.4,305.4 86.0,305.1 85.6,304.7 85.2,304.4 84.8,304.1 84.4,304.0 84.0,304.3 83.6,304.6 83.2,304.9 82.8,305.0 82.4,304.8 82.0,304.7 81.6,304.5 81.2,304.3 80.8,304.2 80.4,304.3 80.0,304.5 79.6,304.8 79.2,305.2 78.8,305.5 78.4,305.7 78.0,305.6 77.6,305.4 77.2,305.3 76.8,305.2 76.4,305.4 76.0,306.0 75.6,306.6 75.2,307.2 74.8,307.7 74.4,307.7 74.0,307.3 73.6,307.0 73.2,306.6 72.8,306.2 72.4,305.9 72.0,305.6 71.6,305.9 71.2,306.2 70.8,306.5 70.4,306.8 70.0,306.8 69.6,306.7 69.2,306.5 68.8,306.3 68.4,306.1 68.0,305.9 67.6,306.2 67.2,306.8 66.8,307.3 66.4,307.8 66.0,308.3 65.6,308.9 65.2,309.4 64.8,309.3 64.4,308.7 64.0,308.0 63.6,307.3 63.2,307.6 62.8,308.1 62.4,308.5 62.0,309.0 61.6,308.9 61.2,308.8 60.8,308.7 60.4,308.8 60.0,309.2 59.6,309.5 59.2,309.9 58.8,310.2 58.4,310.6 58.0,310.4 57.6,310.1 57.2,309.9 56.8,309.7 56.4,309.4 56.0,309.4 55.6,309.7 55.2,310.1 54.8,310.4 54.4,310.6 54.0,310.6 53.6,310.5 53.2,310.3 52.8,310.2 52.4,310.0 52.0,309.9 51.6,309.7 51.2,309.9 50.8,310.5 50.4,311.2 50.0,311.8" fill="#fa0000"/>
<polygon points="50.0,409.7 50.4,409.7 50.8,409.7 51.2,409.7 51.6,409.6 52.0,409.2 52.4,409.3 52.8,409.3 53.2,409.3 53.6,409.8 54.0,410.2 54.4,410.7 54.8,411.2 55.2,411.2 55.6,411.3 56.0,411.4 56.4,412.0 56.8,412.8 57.2,413.5 57.6,414.1 58.0,414.3 58.4,414.7 58.8,415.7 59.2,416.6 59.6,417.2 60.0,417.7 60.4,418.0 60.8,418.4 61.2,419.1 61.6,419.7 62.0,419.9 62.4,420.0 62.8,420.2 63.2,420.4 63.6,421.1 64.0,421.8 64.4,422.3 64.8,422.4 65.2,422.5 65.6,423.1 66.0,423.6 66.4,423.6 66.8,423.5 67.2,423.5 67.6,423.5 68.0,423.7 68.4,424.0 68.8,424.2 69.2,424.2 69.6,424.2 70.0,424.2 70.4,424.3 70.8,424.5 71.2,424.6 71.6,424.8 72.0,424.9 72.4,424.8 72.8,424.7 73.2,424.6 73.6,424.7 74.0,424.8 74.4,425.0 74.8,425.1 75.2,425.1 75.6,424.9 76.0,424.7 76.4,424.4 76.8,424.3 77.2,424.7 77.6,425.1 78.0,425.2 78.4,424.9 78.8,424.8 79.2,425.1 79.6,425.3 80.0,425.1 80.4,425.0 80.8,424.9 81.2,425.0 81.6,425.2 82.0,425.3 82.4,425.3 82.8,425.0 83.2,424.6 83.6,424.7 84.0,425.0 84.4,425.4 84.8,425.4 85.2,425.1 85.6,424.8 86.0,424.9 86.4,425.2 86.8,425.3 87.2,424.9 87.6,424.9 88.0,425.2 88.4,425.4 88.8,425.7 89.2,425.7 89.6,425.6 90.0,425.4 90.4,425.2 90.8,425.3 91.2,425.5 91.6,425.8 92.0,425.8 92.4,425.4 92.8,425.3 93.2,425.4 93.6,425.6 94.0,425.7 94.4,425.8 94.8,425.5 95.2,425.2 95.6,424.9 96.0,424.8 96.4,425.1 96.8,425.3 97.2,425.6 97.6,425.8 98.0,425.5 98.4,425.2 98.8,425.1 99.2,425.3 99.6,425.5 100.0,425.8 100.4,425.7 100.8,425.5 101.2,425.2 101.6,425.0 102.0,425.1 102.4,425.4 102.8,425.7 103.2,426.0 103.6,426.0 104.0,425.8 104.4,425.7 104.8,425.6 105.2,425.6 105.6,425.8 106.0,426.0 106.4,425.9 106.8,425.8 107.2,425.7 107.6,425.6 108.0,425.6 108.4,425.8 108.8,426.0 109.2,426.1 109.6,426.1 110.0,425.9 110.4,425.7 110.8,425.9 111.2,426.2 111.6,426.1 112.0,425.6 112.4,425.3 112.8,425.5 113.2,425.7 113.6,425.9 114.0,426.1 114.4,425.6 114.8,425.0 115.2,425.2 115.6,425.6 116.0,425.9 116.4,425.7 116.8,425.4 117.2,425.2 117.6,425.3 118.0,425.5 118.4,425.7 118.8,425.8 119.2,425.6 119.6,425.4 120.0,425.4 120.4,425.5 120.8,425.6 121.2,425.7 121.6,425.7 122.0,425.3 122.4,424.9 122.8,424.6 123.2,424.9 123.6,425.3 124.0,425.1 124.4,424.9 124.8,424.7 125.2,424.5 125.6,424.5 126.0,424.7 126.4,424.9 126.8,425.1 127.2,425.0 127.6,424.7 128.0,424.5 128.4,424.5 128.8,424.6 129.2,424.7 129.6,424.8 130.0,424.5 130.4,424.1 130.8,423.7 131.2,423.8 131.6,424.0 132.0,424.2 132.4,424.4 132.8,424.2 133.2,424.0 133.6,423.8 134.0,423.9 134.4,424.0 134.8,424.2 135.2,424.3 135.6,424.0 136.0,423.7 136.4,423.7 136.8,424.0 137.2,424.1 137.6,423.9 138.0,423.6 138.4,423.3 138.8,423.0 139.2,423.3 139.6,423.5 140.0,423.8 140.4,423.8 140.8,423.7 141.2,423.5 141.6,423.5 142.0,423.6 142.4,423.7 142.8,423.5 143.2,423.4 143.6,423.2 144.0,423.1 144.4,423.2 144.8,423.3 145.2,423.5 145.6,423.5 146.0,423.2 146.4,423.0 146.8,422.8 147.2,422.9 147.6,423.1 148.0,423.3 148.4,423.5 148.8,423.3 149.2,423.1 149.6,422.9 150.0,422.8 150.4,423.0 150.8,423.1 151.2,423.2 151.6,423.0 152.0,422.8 152.4,422.7 152.8,422.6 153.2,422.7 153.6,422.8 154.0,422.9 154.4,423.0 154.8,422.8 155.2,422.7 155.6,422.6 156.0,422.7 156.4,422.8 156.8,422.9 157.2,422.7 157.6,422.5 158.0,422.3 158.4,422.1 158.8,422.2 159.2,422.4 159.6,422.5 160.0,422.6 160.4,422.3 160.8,422.1 161.2,421.9 161.6,421.8 162.0,421.8 162.4,421.9 162.8,422.0 163.2,421.8 163.6,421.5 164.0,421.3 164.4,421.1 164.8,421.2 165.2,421.2 165.6,421.2 166.0,421.3 166.4,420.9 166.8,420.6 167.2,420.2 167.6,420.1 168.0,420.3 168.4,420.4 168.8,420.6 169.2,420.7 169.6,420.4 170.0,420.2 170.4,420.0 170.8,420.0 171.2,420.0 171.6,420.1 172.0,420.1 172.4,419.8 172.8,419.5 173.2,419.2 173.6,419.3 174.0,419.4 174.4,419.6 174.8,419.6 175.2,419.1 175.6,418.7 176.0,418.9 176.4,419.1 176.8,419.3 177.2,419.1 177.6,418.8 178.0,418.5 178.4,418.5 178.8,418.6 179.2,418.7 179.6,418.9 180.0,418.7 180.4,418.6 180.8,418.5 181.2,418.5 181.6,418.7 182.0,418.9 182.4,418.7 182.8,418.6 183.2,418.4 183.6,418.4 184.0,418.6 184.4,418.7 184.8,418.8 185.2,418.6 185.6,418.2 186.0,418.5 186.4,418.9 186.8,418.9 187.2,418.6 187.6,418.4 188.0,418.7 188.4,419.0 188.8,418.7 189.2,418.3 189.6,418.5 190.0,418.7 190.4,419.0 190.8,418.9 191.2,418.8 191.6,418.7 192.0,418.8 192.4,419.1 192.8,419.3 193.2,419.5 193.6,419.5 194.0,419.3 194.4,419.1 194.8,419.3 195.2,419.6 195.6,419.9 196.0,419.8 196.4,419.7 196.8,419.6 197.2,419.4 197.6,419.6 198.0,419.8 198.4,419.4 198.8,419.0 199.2,419.1 199.6,419.3 200.0,419.4 200.4,419.1 200.8,418.8 201.2,418.5 201.6,418.2 202.0,418.4 202.4,418.6 202.8,418.8 203.2,418.6 203.6,418.3 204.0,418.1 204.4,418.0 204.8,418.2 205.2,418.3 205.6,418.0 206.0,417.7 206.4,417.3 206.8,417.4 207.2,417.6 207.6,417.8 208.0,418.0 208.4,417.8 208.8,417.4 209.2,417.1 209.6,417.5 210.0,418.0 210.4,417.7 210.8,417.4 211.2,417.1 211.6,417.2 212.0,417.5 212.4,417.5 212.8,417.3 213.2,417.2 213.6,417.0 214.0,416.9 214.4,417.1 214.8,417.3 215.2,417.2 215.6,416.8 216.0,416.3 216.4,416.4 216.8,416.7 217.2,417.0 217.6,416.8 218.0,416.6 218.4,416.4 218.8,416.2 219.2,416.4 219.6,416.6 220.0,416.7 220.4,416.5 220.8,416.2 221.2,416.1 221.6,416.3 222.0,416.4 222.4,416.4 222.8,416.2 223.2,416.0 223.6,416.0 224.0,416.2 224.4,416.4 224.8,416.4 225.2,416.1 225.6,415.8 226.0,415.5 226.4,415.6 226.8,415.8 227.2,415.9 227.6,415.7 228.0,415.6 228.4,415.5 228.8,415.4 229.2,415.5 229.6,415.6 230.0,415.6 230.4,415.3 230.8,415.0 231.2,414.7 231.6,414.4 232.0,414.7 232.4,415.0 232.8,415.0 233.2,414.4 233.6,414.0 234.0,414.3 234.4,414.6 234.8,414.6 235.2,414.3 235.6,414.1 236.0,414.1 236.4,414.4 236.8,414.6 237.2,414.8 237.6,414.5 238.0,414.1 238.4,414.4 238.8,414.8 239.2,415.0 239.6,414.8 240.0,414.6 240.4,414.7 240.8,414.9 241.2,415.1 241.6,415.1 242.0,414.8 242.4,414.5 242.8,414.6 243.2,415.0 243.6,415.3 244.0,415.4 244.4,415.1 244.8,414.8 245.2,414.9 245.6,415.1 246.0,415.2 246.4,415.4 246.8,415.4 247.2,415.3 247.6,415.3 248.0,415.3 248.4,415.3 248.8,415.4 249.2,415.5 249.6,415.3 250.0,415.0 250.4,414.7 250.8,414.5 251.2,414.7 251.6,414.9 252.0,415.1 252.4,415.0 252.8,414.8 253.2,414.6 253.6,414.3 254.0,414.4 254.4,414.5 254.8,414.6 255.2,414.5 255.6,414.2 256.0,414.1 256.4,414.3 256.8,414.4 257.2,414.6 257.6,414.5 258.0,414.2 258.4,413.9 258.8,413.6 259.2,413.6 259.6,413.9 260.0,414.2 260.4,414.1 260.8,413.8 261.2,413.5 261.6,413.2 262.0,413.4 262.4,413.8 262.8,413.9 263.2,413.6 263.6,413.3 264.0,413.2 264.4,413.5 264.8,413.7 265.2,413.7 265.6,413.3 266.0,413.0 266.4,412.8 266.8,413.2 267.2,413.6 267.6,413.3 268.0,413.0 268.4,412.7 268.8,412.5 269.2,412.7 269.6,413.0 270.0,413.2 270.4,413.1 270.8,412.7 271.2,412.4 271.6,412.0 272.0,412.2 272.4,412.3 272.8,412.5 273.2,412.7 273.6,412.5 274.0,412.0 274.4,412.0 274.8,412.3 275.2,412.5 275.6,412.3 276.0,412.1 276.4,411.9 276.8,411.6 277.2,412.0 277.6,412.3 278.0,412.3 278.4,412.1 278.8,412.0 279.2,411.8 279.6,411.8 280.0,411.9 280.4,412.0 280.8,412.0 281.2,411.6 281.6,411.2 282.0,411.6 282.4,412.0 282.8,411.8 283.2,411.6 283.6,411.4 284.0,411.5 284.4,411.7 284.8,411.4 285.2,411.1 285.6,410.9 286.0,410.8 286.4,411.3 286.8,411.6 287.2,411.3 287.6,411.0 288.0,411.0 288.4,411.2 288.8,411.4 289.2,411.5 289.6,411.4 290.0,411.3 290.4,411.3 290.8,411.5 291.2,411.6 291.6,411.7 292.0,411.5 292.4,411.3 292.8,411.1 293.2,411.0 293.6,411.2 294.0,411.3 294.4,411.5 294.8,411.6 295.2,411.4 295.6,411.2 296.0,411.0 296.4,411.1 296.8,411.3 297.2,411.4 297.6,411.3 298.0,411.1 298.4,410.8 298.8,410.5 299.2,410.8 299.6,411.1 300.0,411.0 300.4,410.6 300.8,410.2 301.2,410.4 301.6,410.7 302.0,410.8 302.4,410.6 302.8,410.5 303.2,410.4 303.6,410.5 304.0,410.6 304.4,410.7 304.8,410.5 305.2,410.1 305.2,420.2 304.8,420.1 304.4,420.1 304.0,420.1 303.6,420.3 303.2,420.6 302.8,420.7 302.4,420.6 302.0,420.5 301.6,420.4 301.2,420.6 300.8,420.9 300.4,421.1 300.0,421.1 299.6,420.9 299.2,420.6 298.8,420.9 298.4,421.1 298.0,421.4 297.6,421.7 297.2,421.6 296.8,421.3 296.4,421.1 296.0,421.4 295.6,421.7 295.2,421.7 294.8,421.6 294.4,421.4 294.0,421.4 293.6,421.8 293.2,422.2 292.8,422.0 292.4,421.8 292.0,421.5 291.6,421.3 291.2,421.4 290.8,421.6 290.4,421.7 290.0,421.8 289.6,421.6 289.2,421.4 288.8,421.2 288.4,421.4 288.0,421.7 287.6,422.0 287.2,421.7 286.8,421.4 286.4,421.2 286.0,421.4 285.6,421.7 285.2,421.9 284.8,422.0 284.4,421.7 284.0,421.5 283.6,421.4 283.2,421.7 282.8,421.9 282.4,421.7 282.0,421.5 281.6,421.7 281.2,422.0 280.8,422.2 280.4,422.5 280.0,422.5 279.6,422.4 279.2,422.3 278.8,422.2 278.4,422.2 278.0,422.4 277.6,422.7 277.2,423.0 276.8,422.9 276.4,422.8 276.0,422.6 275.6,422.4 275.2,422.5 274.8,422.6 274.4,422.8 274.0,422.9 273.6,422.8 273.2,422.7 272.8,422.5 272.4,422.7 272.0,423.0 271.6,423.1 271.2,422.8 270.8,422.7 270.4,423.1 270.0,423.5 269.6,423.8 269.2,423.6 268.8,423.3 268.4,423.1 268.0,423.1 267.6,423.3 267.2,423.6 266.8,423.8 266.4,424.0 266.0,423.8 265.6,423.6 265.2,423.4 264.8,423.4 264.4,423.7 264.0,424.0 263.6,424.3 263.2,424.6 262.8,424.3 262.4,424.0 262.0,423.7 261.6,424.0 261.2,424.3 260.8,424.6 260.4,424.9 260.0,424.7 259.6,424.6 259.2,424.4 258.8,424.5 258.4,424.8 258.0,424.9 257.6,424.9 257.2,424.8 256.8,424.7 256.4,424.9 256.0,425.2 255.6,425.2 255.2,425.1 254.8,425.2 254.4,425.4 254.0,425.6 253.6,425.7 253.2,425.6 252.8,425.5 252.4,425.6 252.0,425.8 251.6,426.0 251.2,426.2 250.8,426.0 250.4,425.9 250.0,425.9 249.6,426.1 249.2,426.4 248.8,426.7 248.4,426.9 248.0,426.6 247.6,426.2 247.2,425.8 246.8,426.1 246.4,426.5 246.0,426.5 245.6,426.1 245.2,425.7 244.8,425.4 244.4,425.5 244.0,425.7 243.6,425.8 243.2,426.0 242.8,425.6 242.4,425.2 242.0,425.1 241.6,425.5 241.2,425.8 240.8,425.4 240.4,425.1 240.0,424.8 239.6,425.0 239.2,425.2 238.8,425.4 238.4,425.1 238.0,424.6 237.6,424.7 237.2,425.0 236.8,425.3 236.4,425.4 236.0,425.2 235.6,424.9 235.2,424.7 234.8,424.6 234.4,425.0 234.0,425.3 233.6,425.1 233.2,424.9 232.8,425.3 232.4,425.8 232.0,426.2 231.6,426.1 231.2,425.8 230.8,425.7 230.4,425.9 230.0,426.2 229.6,426.4 229.2,426.3 228.8,426.3 228.4,426.3 228.0,426.5 227.6,426.8 227.2,427.1 226.8,427.4 226.4,427.4 226.0,427.3 225.6,427.3 225.2,427.2 224.8,427.4 224.4,427.6 224.0,427.9 223.6,428.1 223.2,427.8 222.8,427.5 222.4,427.9 222.0,428.3 221.6,428.4 221.2,428.1 220.8,427.8 220.4,428.0 220.0,428.2 219.6,428.5 219.2,428.7 218.8,428.4 218.4,428.1 218.0,428.1 217.6,428.5 217.2,428.8 216.8,428.7 216.4,428.5 216.0,428.5 215.6,428.7 215.2,428.9 214.8,429.2 214.4,429.1 214.0,429.0 213.6,428.9 213.2,428.8 212.8,429.0 212.4,429.3 212.0,429.6 211.6,429.7 211.2,429.6 210.8,429.4 210.4,429.3 210.0,429.2 209.6,429.4 209.2,429.6 208.8,429.7 208.4,429.9 208.0,429.8 207.6,429.7 207.2,429.6 206.8,429.5 206.4,429.7 206.0,430.0 205.6,430.1 205.2,429.8 204.8,429.7 204.4,430.0 204.0,430.3 203.6,430.3 203.2,430.3 202.8,430.2 202.4,430.2 202.0,430.6 201.6,430.9 201.2,430.8 200.8,430.7 200.4,430.6 200.0,430.7 199.6,431.0 199.2,431.3 198.8,431.5 198.4,431.6 198.0,431.4 197.6,431.2 197.2,431.5 196.8,431.9 196.4,432.0 196.0,431.7 195.6,431.3 195.2,431.0 194.8,431.0 194.4,431.2 194.0,431.3 193.6,431.2 193.2,431.1 192.8,431.0 192.4,431.2 192.0,431.4 191.6,431.3 191.2,431.1 190.8,430.9 190.4,430.9 190.0,431.1 189.6,431.4 189.2,431.6 188.8,431.5 188.4,431.1 188.0,430.7 187.6,431.1 187.2,431.5 186.8,431.5 186.4,431.2 186.0,430.9 185.6,431.0 185.2,431.3 184.8,431.3 184.4,431.1 184.0,430.9 183.6,431.1 183.2,431.3 182.8,431.5 182.4,431.7 182.0,431.4 181.6,431.2 181.2,430.9 180.8,431.0 180.4,431.1 180.0,431.3 179.6,431.5 179.2,431.6 178.8,431.6 178.4,431.6 178.0,431.7 177.6,432.1 177.2,432.4 176.8,432.3 176.4,432.2 176.0,432.1 175.6,432.0 175.2,432.3 174.8,432.6 174.4,432.9 174.0,433.2 173.6,433.1 173.2,432.9 172.8,432.7 172.4,433.0 172.0,433.4 171.6,433.8 171.2,433.7 170.8,433.3 170.4,433.1 170.0,433.5 169.6,433.8 169.2,434.2 168.8,434.4 168.4,434.2 168.0,434.0 167.6,433.9 167.2,434.3 166.8,434.6 166.4,434.4 166.0,434.2 165.6,434.4 165.2,434.7 164.8,434.9 164.4,435.2 164.0,434.9 163.6,434.5 163.2,434.9 162.8,435.2 162.4,435.5 162.0,435.3 161.6,435.1 161.2,435.3 160.8,435.6 160.4,435.9 160.0,436.2 159.6,436.2 159.2,435.9 158.8,435.5 158.4,435.7 158.0,436.0 157.6,436.1 157.2,436.0 156.8,436.0 156.4,436.1 156.0,436.4 155.6,436.6 155.2,436.4 154.8,436.3 154.4,436.2 154.0,436.4 153.6,436.7 153.2,436.7 152.8,436.6 152.4,436.6 152.0,436.8 151.6,437.0 151.2,437.2 150.8,437.3 150.4,437.3 150.0,437.2 149.6,437.1 149.2,437.2 148.8,437.5 148.4,437.7 148.0,437.9 147.6,437.9 147.2,437.7 146.8,437.5 146.4,437.4 146.0,437.5 145.6,437.8 145.2,438.1 144.8,438.3 144.4,438.1 144.0,437.9 143.6,437.7 143.2,437.9 142.8,438.2 142.4,438.5 142.0,438.4 141.6,438.1 141.2,437.8 140.8,438.1 140.4,438.5 140.0,438.4 139.6,438.1 139.2,438.0 138.8,438.6 138.4,438.9 138.0,438.5 137.6,438.2 137.2,438.4 136.8,438.7 136.4,439.0 136.0,438.8 135.6,438.4 135.2,438.6 134.8,438.9 134.4,438.9 134.0,438.8 133.6,438.8 133.2,438.9 132.8,439.0 132.4,439.2 132.0,439.2 131.6,439.1 131.2,438.9 130.8,439.1 130.4,439.6 130.0,439.9 129.6,439.6 129.2,439.4 128.8,439.1 128.4,439.4 128.0,439.7 127.6,439.9 127.2,440.2 126.8,440.0 126.4,439.8 126.0,439.5 125.6,439.6 125.2,439.8 124.8,440.1 124.4,440.3 124.0,440.0 123.6,439.8 123.2,439.6 122.8,440.1 122.4,440.6 122.0,440.7 121.6,440.4 121.2,440.2 120.8,440.1 120.4,440.3 120.0,440.4 119.6,440.5 119.2,440.2 118.8,439.9 118.4,439.9 118.0,440.1 117.6,440.3 117.2,440.4 116.8,440.1 116.4,439.8 116.0,439.6 115.6,439.6 115.2,439.7 114.8,439.8 114.4,439.9 114.0,439.7 113.6,439.4 113.2,439.5 112.8,439.6 112.4,439.8 112.0,439.6 111.6,439.2 111.2,439.4 110.8,439.6 110.4,439.5 110.0,439.2 109.6,439.3 109.2,439.6 108.8,439.8 108.4,439.5 108.0,438.9 107.6,438.9 107.2,439.1 106.8,439.4 106.4,439.2 106.0,439.0 105.6,438.8 105.2,438.6 104.8,438.7 104.4,438.9 104.0,438.9 103.6,438.7 103.2,438.4 102.8,438.2 102.4,438.5 102.0,439.1 101.6,438.9 101.2,438.5 100.8,438.1 100.4,438.2 100.0,438.3 99.6,438.5 99.2,438.6 98.8,438.4 98.4,438.0 98.0,437.7 97.6,437.9 97.2,438.1 96.8,438.4 96.4,438.3 96.0,437.9 95.6,437.5 95.2,437.7 94.8,437.9 94.4,438.0 94.0,437.8 93.6,437.6 93.2,437.4 92.8,437.2 92.4,437.4 92.0,437.7 91.6,437.4 91.2,437.0 90.8,437.3 90.4,437.7 90.0,437.7 89.6,437.3 89.2,437.0 88.8,436.7 88.4,436.8 88.0,436.9 87.6,437.0 87.2,436.9 86.8,436.7 86.4,436.6 86.0,436.4 85.6,436.3 85.2,436.5 84.8,436.7 84.4,436.8 84.0,436.7 83.6,436.4 83.2,436.1 82.8,435.9 82.4,435.8 82.0,435.8 81.6,435.8 81.2,435.9 80.8,435.8 80.4,435.6 80.0,435.4 79.6,435.2 79.2,435.4 78.8,435.5 78.4,435.4 78.0,435.1 77.6,434.8 77.2,435.2 76.8,435.6 76.4,435.3 76.0,434.9 75.6,434.4 75.2,434.6 74.8,434.7 74.4,434.5 74.0,434.1 73.6,434.1 73.2,434.2 72.8,434.4 72.4,434.2 72.0,433.9 71.6,433.5 71.2,433.2 70.8,433.3 70.4,433.6 70.0,433.5 69.6,433.0 69.2,432.6 68.8,432.4 68.4,432.4 68.0,432.0 67.6,431.5 67.2,431.4 66.8,431.5 66.4,431.7 66.0,431.3 65.6,430.9 65.2,430.4 64.8,430.1 64.4,430.0 64.0,429.9 63.6,429.5 63.2,428.8 62.8,428.0 62.4,427.4 62.0,427.1 61.6,426.8 61.2,426.4 60.8,425.5 60.4,424.5 60.0,424.0 59.6,423.7 59.2,423.4 58.8,422.5 58.4,421.5 58.0,420.7 57.6,420.6 57.2,420.5 56.8,420.2 56.4,419.4 56.0,418.8 55.6,418.7 55.2,418.5 54.8,418.5 54.4,418.0 54.0,417.3 53.6,417.0 53.2,417.1 52.8,417.2 52.4,417.3 52.0,416.6 51.6,416.2 51.2,416.2 50.8,416.5 50.4,416.7 50.0,417.0" fill="#fa0000"/>
<text x="6.8" y="272.9" font-size="14" text-anchor="start" font-weight="bold" fill="#000" >C</text>
<text x="58.85" y="274.7" font-size="11.5" text-anchor="middle" font-weight="bold" fill="#000" textLength="12.9" lengthAdjust="spacingAndGlyphs">NS</text>
<path d="M56.1,276.2 V284" stroke="#222" stroke-width="1.3"/>
<path d="M53.5,283.2 L58.7,283.2 L56.1,289.4Z" fill="#111"/>
<text x="51.6" y="386.7" font-size="10.5" text-anchor="start" font-weight="bold" fill="#000" textLength="40.5" lengthAdjust="spacingAndGlyphs">penicillin</text>
<path d="M54.2,390.5 V399.5" stroke="#222" stroke-width="1.3"/>
<path d="M51.5,398.8 L56.9,398.8 L54.2,405.3Z" fill="#111"/>
<text x="0.4" y="312.7" font-size="9.6" text-anchor="start" font-weight="normal" fill="#222" textLength="35.8" lengthAdjust="spacingAndGlyphs">90 mmHg</text>
<path d="M39.5,309.3 H46.9 M43.2,306.2 L47.5,309.3 L43.2,312.40000000000003" stroke="#111" stroke-width="1.2" fill="none"/>
<text x="6.0" y="379.6" font-size="9.6" text-anchor="start" font-weight="normal" fill="#222" textLength="30.2" lengthAdjust="spacingAndGlyphs">0 mmHg</text>
<path d="M40.1,376.2 H47.05 M43.35,373.09999999999997 L47.65,376.2 L43.35,379.3" stroke="#111" stroke-width="1.2" fill="none"/>
<text x="1.5" y="413.6" font-size="9.6" text-anchor="start" font-weight="normal" fill="#222" textLength="34.7" lengthAdjust="spacingAndGlyphs">90 mmHg</text>
<path d="M40.9,410.3 H47.4 M43.7,407.2 L48,410.3 L43.7,413.40000000000003" stroke="#111" stroke-width="1.2" fill="none"/>
<text x="6.0" y="480.2" font-size="9.6" text-anchor="start" font-weight="normal" fill="#222" textLength="30.2" lengthAdjust="spacingAndGlyphs">0 mmHg</text>
<path d="M40.9,476.8 H47.4 M43.7,473.7 L48,476.8 L43.7,479.90000000000003" stroke="#111" stroke-width="1.2" fill="none"/>
<text x="47" y="492.7" font-size="10.5" text-anchor="start" font-weight="bold" fill="#000" textLength="11.2" lengthAdjust="spacingAndGlyphs">0 s</text>
<text x="291.9" y="491.3" font-size="10.5" text-anchor="start" font-weight="bold" fill="#000" textLength="22.4" lengthAdjust="spacingAndGlyphs">300 s</text>
</svg></body></html>
